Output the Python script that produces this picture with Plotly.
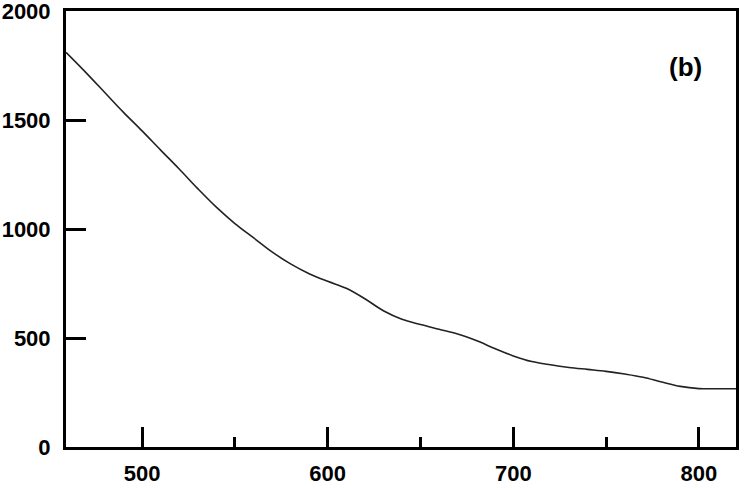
import plotly.graph_objects as go

wavelength = [459, 470, 480, 490, 500, 510, 520, 530, 540, 550, 560, 570, 580, 590,
              600, 610, 620, 630, 640, 650, 660, 670, 680, 690, 700, 710, 720, 730,
              740, 750, 760, 770, 780, 790, 800, 810, 820]
values = [1810, 1715, 1625, 1535, 1450, 1362, 1275, 1185, 1100, 1025, 960, 895, 840, 795,
          760, 728, 680, 625, 586, 562, 540, 518, 488, 452, 418, 392, 377, 365,
          356, 347, 335, 320, 298, 278, 268, 267, 267]

x_ticks = [500, 600, 700, 800]
y_ticks = [0, 500, 1000, 1500, 2000]
panel_label = "(b)"

font_family = "Liberation Sans, Arial, sans-serif"

fig = go.Figure()
fig.add_trace(go.Scatter(x=wavelength, y=values, mode="lines",
                         line=dict(color="#222222", width=1.6, shape="spline"),
                         showlegend=False))

fig.update_layout(
    width=748, height=490,
    margin=dict(l=66, r=12, t=11, b=43),
    paper_bgcolor="white", plot_bgcolor="white",
    font=dict(family=font_family, size=22, color="black", weight="bold"),
    annotations=[dict(text=panel_label, x=0.925, y=0.872, xref="paper", yref="paper",
                      xanchor="center", yanchor="middle", showarrow=False,
                      font=dict(size=26, family=font_family, weight="bold", color="black"))],
)
fig.update_xaxes(range=[459, 820], tickvals=x_ticks, ticks="inside", ticklen=20,
                 tickwidth=3, tickcolor="black", showline=True, linewidth=3,
                 linecolor="black", mirror=True, showgrid=False, zeroline=False,
                 ticklabelstandoff=5, automargin=False, ticklabeloverflow="allow",
                 tickfont=dict(size=22, family=font_family, weight="bold"),
                 minor=dict(dtick=50, tick0=450, ticks="inside", ticklen=10,
                            tickwidth=3, tickcolor="black", showgrid=False))
fig.update_yaxes(range=[0, 2000], tickvals=y_ticks, ticks="inside", ticklen=20,
                 tickwidth=3, tickcolor="black", showline=True, linewidth=3,
                 linecolor="black", mirror=True, showgrid=False, zeroline=False,
                 ticklabelstandoff=8, automargin=False, ticklabeloverflow="allow",
                 tickfont=dict(size=22, family=font_family, weight="bold"))

fig.write_html("out.html")
